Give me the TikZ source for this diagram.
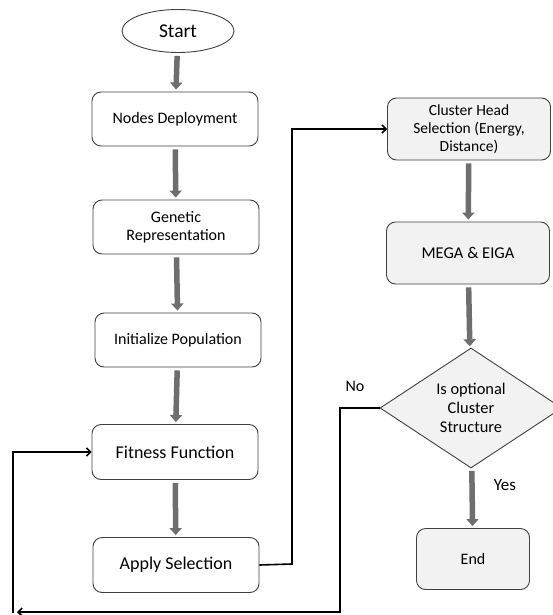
\documentclass[tikz,border=0pt]{standalone}
\usepackage{fontspec}
\setmainfont{Carlito}
\usetikzlibrary{shapes.geometric,arrows.meta}
\definecolor{boxline}{HTML}{404040}
\definecolor{boxfill}{HTML}{F2F2F2}
\definecolor{flowgray}{HTML}{6E6E6E}
\begin{document}
\begin{tikzpicture}[x=1pt,y=-1pt,
    blk/.style={draw=boxline,line width=0.9pt,rounded corners=9pt,align=center,
        minimum width=166pt,minimum height=54pt,font=\fontsize{16}{18.3}\selectfont},
    blkg/.style={blk,fill=boxfill,minimum width=163pt,minimum height=62pt},
    flow/.style={line width=5.5pt,draw=flowgray,-{Triangle[width=12pt,length=7pt]},
        shorten <=3pt,shorten >=2pt},
    back/.style={line width=1.6pt,-{Straight Barb[length=4pt,width=8pt]}}]
    \useasboundingbox (0,0) rectangle (552,615);

    \node[draw=boxline,line width=0.9pt,ellipse,minimum width=112pt,minimum height=43pt,
        font=\fontsize{19.5}{22}\selectfont] (start) at (178,31) {Start};
    \node[blk] (deploy) at (175,119) {Nodes Deployment};
    \node[blk] (genrep) at (176,227) {Genetic\\Representation};
    \node[blk] (initpop) at (178,340) {Initialize Population};
    \node[blk,font=\fontsize{18}{20}\selectfont,minimum height=55pt] (fitness) at (175,452) {Fitness Function};
    \node[blk,font=\fontsize{18}{20}\selectfont,minimum height=55pt] (applysel) at (176,565) {Apply Selection};

    \node[blkg,font=\fontsize{15.5}{18.3}\selectfont] (chsel) at (469,129) {Cluster Head\\Selection (Energy,\\Distance)};
    \node[blkg,font=\fontsize{16.5}{19}\selectfont] (mega) at (468,253) {MEGA \& EIGA};
    \node[draw=boxline,line width=0.9pt,fill=boxfill,diamond,inner sep=0pt,aspect=1.5,
        minimum width=182pt,minimum height=120pt,align=center,
        font=\fontsize{16.4}{19.2}\selectfont] (optcl) at (471,408) {Is optional\\Cluster\\Structure};
    \node[blkg,minimum width=113pt,minimum height=61pt] (finish) at (473,559) {End};

    \draw[flow] (start) -- (deploy);
    \draw[flow] (deploy) -- (genrep);
    \draw[flow] (genrep) -- (initpop);
    \draw[flow] (initpop) -- (fitness);
    \draw[flow] (fitness) -- (applysel);
    \draw[flow] (chsel) -- (mega);
    \draw[flow] (mega) -- (optcl);
    \draw[flow] (optcl) -- (finish);

    \draw[back] (applysel.east) -- (292,564) |- (chsel.west);
    %\draw[back] (optcl.west) -| (13,612) |- (fitness.west);
    \coordinate (loopend) at (17,612);
    \draw[back] (optcl.west) -- (340,408) |- (loopend);
    \draw[back] (13,613) |- (fitness.west);

    \node[font=\fontsize{16}{18}\selectfont] (nolbl) at (355,386) {No};
    \node[font=\fontsize{17}{19}\selectfont] (yeslbl) at (505,485) {Yes};
\end{tikzpicture}
\end{document}
